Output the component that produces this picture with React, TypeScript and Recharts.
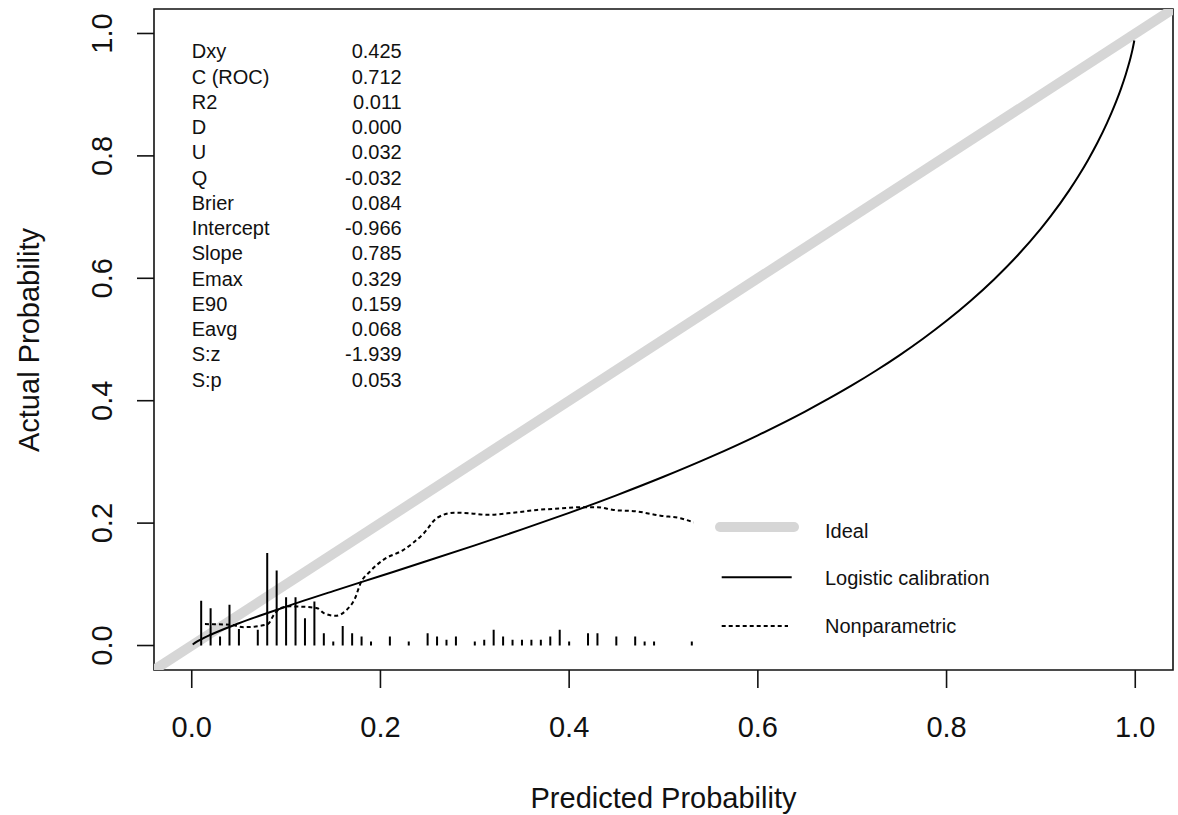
import React from 'react';
import { ComposedChart, Line, XAxis, YAxis, ReferenceArea } from 'recharts';

const xTicks = [0, 0.2, 0.4, 0.6, 0.8, 1.0];
const yTicks = [0, 0.2, 0.4, 0.6, 0.8, 1.0];
const axisDomain = [-0.04, 1.04];

const idealX = [-0.04, 1.04];

const logisticX = [0.001, 0.005, 0.01, 0.02, 0.05, 0.1, 0.15, 0.2, 0.25, 0.3, 0.35, 0.4, 0.45, 0.5, 0.55, 0.6, 0.65, 0.675, 0.7, 0.725, 0.75, 0.775, 0.8, 0.825, 0.85, 0.875, 0.9, 0.91, 0.93, 0.94, 0.95, 0.96, 0.97, 0.975, 0.98, 0.985, 0.99, 0.9925, 0.995, 0.997, 0.999];
const logisticY = [0.0017, 0.0059, 0.0102, 0.0176, 0.0364, 0.0635, 0.0889, 0.1136, 0.1384, 0.1637, 0.1897, 0.2168, 0.2454, 0.2757, 0.3082, 0.3435, 0.3822, 0.4032, 0.4253, 0.4489, 0.4741, 0.5012, 0.5305, 0.5625, 0.5977, 0.6368, 0.6811, 0.7006, 0.7436, 0.7675, 0.7934, 0.8218, 0.8536, 0.871, 0.8898, 0.9104, 0.9335, 0.9463, 0.9604, 0.9732, 0.9885];

const npX = [0.014, 0.041, 0.055, 0.072, 0.081, 0.087, 0.094, 0.104, 0.122, 0.133, 0.14, 0.152, 0.164, 0.173, 0.179, 0.189, 0.203, 0.224, 0.246, 0.26, 0.278, 0.295, 0.313, 0.341, 0.366, 0.391, 0.412, 0.43, 0.447, 0.472, 0.497, 0.518, 0.532];
const npY = [0.035, 0.034, 0.03, 0.032, 0.0355, 0.05, 0.061, 0.064, 0.063, 0.061, 0.053, 0.0485, 0.058, 0.077, 0.102, 0.121, 0.14, 0.156, 0.1835, 0.2085, 0.217, 0.216, 0.2135, 0.217, 0.2215, 0.224, 0.226, 0.226, 0.2215, 0.219, 0.212, 0.208, 0.201];

const spikeX = [0.01, 0.02, 0.03, 0.04, 0.05, 0.07, 0.08, 0.09, 0.1, 0.11, 0.12, 0.13, 0.14, 0.15, 0.16, 0.17, 0.18, 0.19, 0.21, 0.23, 0.25, 0.26, 0.27, 0.28, 0.3, 0.31, 0.32, 0.33, 0.34, 0.35, 0.36, 0.37, 0.38, 0.39, 0.4, 0.42, 0.43, 0.45, 0.47, 0.48, 0.49, 0.53];
const spikeH = [0.073, 0.061, 0.0147, 0.0665, 0.0268, 0.0256, 0.151, 0.1225, 0.079, 0.079, 0.0447, 0.0718, 0.0202, 0.0065, 0.032, 0.02, 0.0147, 0.0065, 0.0147, 0.0065, 0.02, 0.0147, 0.0093, 0.0147, 0.0065, 0.0093, 0.0256, 0.0147, 0.0093, 0.0093, 0.0093, 0.0093, 0.0147, 0.0256, 0.0065, 0.02, 0.02, 0.0147, 0.0147, 0.0065, 0.0065, 0.0065];

const statLabels = ['Dxy', 'C (ROC)', 'R2', 'D', 'U', 'Q', 'Brier', 'Intercept', 'Slope', 'Emax', 'E90', 'Eavg', 'S:z', 'S:p'];
const statValues = ['0.425', '0.712', '0.011', '0.000', '0.032', '-0.032', '0.084', '-0.966', '0.785', '0.329', '0.159', '0.068', '-1.939', '0.053'];

const legendLabels = ['Ideal', 'Logistic calibration', 'Nonparametric'];

const FONT = '"Liberation Sans", Arial, sans-serif';
const INK = '#111';
const IDEAL = '#d6d6d6';

const idealData = idealX.map((x) => ({ x, y: x }));
const logisticData = logisticX.map((x, i) => ({ x, y: logisticY[i] }));
const npData = npX.map((x, i) => ({ x, y: npY[i] }));
const spikeData = spikeX.flatMap((x, i) => [
  { x, y: 0 },
  { x, y: spikeH[i] },
  { x, y: null },
]);

const XTick = (props: any) => {
  const { x, y, payload } = props;
  return (
    <text x={x} y={y + 49} textAnchor="middle" fontFamily={FONT} fontSize={29} fill={INK}>
      {Number(payload.value).toFixed(1)}
    </text>
  );
};

const YTick = (props: any) => {
  const { x, y, payload } = props;
  const bx = x - 25;
  return (
    <text x={bx} y={y} transform={`rotate(-90, ${bx}, ${y})`} textAnchor="middle" fontFamily={FONT} fontSize={29} fill={INK}>
      {Number(payload.value).toFixed(1)}
    </text>
  );
};

export default function App() {
  const rowY0 = 58.3;
  const rowStep = 25.26;
  return (
    <div style={{ position: 'absolute', left: 0, top: 0, width: 1178, height: 815, background: '#fff' }}>
      <ComposedChart width={1178} height={815} margin={{ top: 9, right: 5, bottom: 0, left: 0 }}>
        <XAxis
          dataKey="x"
          type="number"
          domain={axisDomain}
          allowDataOverflow
          ticks={xTicks}
          height={145}
          axisLine={false}
          tickSize={18}
          tickMargin={0}
          tickLine={{ stroke: INK, strokeWidth: 1.6 }}
          tick={<XTick />}
          interval={0}
        />
        <YAxis
          type="number"
          domain={axisDomain}
          allowDataOverflow
          ticks={yTicks}
          width={154}
          axisLine={false}
          tickSize={17}
          tickMargin={0}
          tickLine={{ stroke: INK, strokeWidth: 1.6 }}
          tick={<YTick />}
          interval={0}
        />
        <ReferenceArea x1={-0.04} x2={1.04} y1={-0.04} y2={1.04} fill="none" fillOpacity={0} stroke={INK} strokeWidth={1.6} ifOverflow="visible" />
        <Line data={idealData} dataKey="y" stroke={IDEAL} strokeWidth={10} dot={false} isAnimationActive={false} type="linear" />
        <Line data={spikeData} dataKey="y" stroke="#000" strokeWidth={2} dot={false} isAnimationActive={false} type="linear" connectNulls={false} />
        <Line data={logisticData} dataKey="y" stroke="#000" strokeWidth={2} dot={false} isAnimationActive={false} type="monotone" />
        <Line data={npData} dataKey="y" stroke="#000" strokeWidth={2} strokeDasharray="4 3" dot={false} isAnimationActive={false} type="monotone" />
      </ComposedChart>
      <svg width={1178} height={815} style={{ position: 'absolute', left: 0, top: 0, pointerEvents: 'none' }}>
        {statLabels.map((s, i) => (
          <text key={'l' + i} x={191.7} y={rowY0 + i * rowStep} fontFamily={FONT} fontSize={20} fill={INK}>{s}</text>
        ))}
        {statValues.map((s, i) => (
          <text key={'v' + i} x={401.7} y={rowY0 + i * rowStep} textAnchor="end" fontFamily={FONT} fontSize={20} fill={INK}>{s}</text>
        ))}
        <line x1={720} x2={794} y1={527} y2={527} stroke={IDEAL} strokeWidth={10} strokeLinecap="round" />
        <line x1={721.7} x2={791.7} y1={577.3} y2={577.3} stroke="#000" strokeWidth={2} />
        <line x1={721.7} x2={788} y1={626} y2={626} stroke="#000" strokeWidth={2} strokeDasharray="4 3" />
        <text x={825} y={538.3} fontFamily={FONT} fontSize={20} fill={INK}>{legendLabels[0]}</text>
        <text x={825} y={585} fontFamily={FONT} fontSize={20} fill={INK}>{legendLabels[1]}</text>
        <text x={825} y={633.3} fontFamily={FONT} fontSize={20} fill={INK}>{legendLabels[2]}</text>
        <text x={663.5} y={808} textAnchor="middle" fontFamily={FONT} fontSize={29} fill={INK}>Predicted Probability</text>
        <text x={39} y={340} transform="rotate(-90, 39, 340)" textAnchor="middle" fontFamily={FONT} fontSize={29} fill={INK}>Actual Probability</text>
      </svg>
    </div>
  );
}
